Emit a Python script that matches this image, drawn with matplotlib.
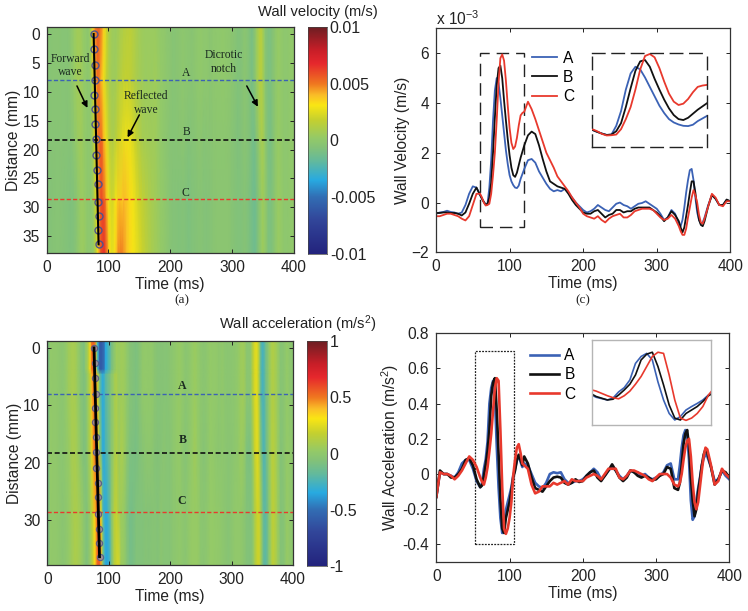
import numpy as np
import matplotlib
matplotlib.use("Agg")
import matplotlib.pyplot as plt
from matplotlib.colors import LinearSegmentedColormap, Normalize
from matplotlib.patches import Rectangle

plt.rcParams['font.family'] = ['Liberation Sans', 'DejaVu Sans']
plt.rcParams['mathtext.fontset'] = 'custom'
plt.rcParams['mathtext.rm'] = 'Liberation Sans'
plt.rcParams['mathtext.default'] = 'regular'

# ---- shared time grid (ms)
T1 = [0, 5, 10, 15, 20, 25, 30, 35, 40, 45, 50, 55]
T2 = [60, 62.5, 65, 67.5, 70, 72.5, 75, 77.5, 80, 82.5, 85, 87.5, 90, 92.5, 95, 97.5, 100, 102.5, 105, 107.5, 110, 112.5, 115, 117.5]
T3 = [120, 125, 130, 135, 140, 145, 150, 155, 160, 165, 170, 175, 180, 185, 190, 195]
T4 = [200, 205, 210, 215, 220, 225, 230, 235, 240, 245, 250, 255, 260, 265, 270, 275, 280, 285, 290, 295, 300, 305, 310, 315, 320, 325]
T5 = [330, 332.5, 335, 337.5, 340, 342.5, 345, 347.5, 350, 352.5, 355, 357.5, 360, 362.5, 365, 367.5]
T6 = [370, 375, 380, 385, 390, 395, 400]
TIME = T1 + T2 + T3 + T4 + T5 + T6

# ---- wall velocity (x 1e-3 m/s)
VA1 = [-0.45, -0.40, -0.38, -0.33, -0.38, -0.40, -0.45, -0.40, -0.10, 0.35, 0.65, 0.60]
VA2 = [0.29, 0.15, 0.03, -0.08, -0.05, 0.6, 1.7, 3.3, 4.5, 5.0, 4.8, 4.2, 3.5, 2.8, 2.1, 1.55, 1.1, 0.85, 0.7, 0.6, 0.58, 0.68, 0.95, 1.15]
VA3 = [1.35, 1.7, 1.75, 1.6, 1.25, 1.0, 0.75, 0.55, 0.45, 0.5, 0.45, 0.55, 0.4, 0.2, 0.0, -0.15]
VA4 = [-0.3, -0.4, -0.35, -0.25, -0.1, -0.2, -0.3, -0.35, -0.2, -0.05, 0.0, -0.1, -0.15, -0.25, -0.15, -0.05, -0.02, 0.05, -0.05, -0.15, -0.25, -0.45, -0.7, -0.6, -0.3, -0.45]
VA5 = [-0.85, -0.95, -0.7, -0.2, 0.4, 0.9, 1.3, 1.35, 0.9, 0.2, -0.4, -0.7, -0.85, -0.8, -0.6, -0.35]
VA6 = [-0.1, 0.3, 0.15, -0.1, -0.1, 0.1, 0.05]

VB1 = [-0.42, -0.42, -0.40, -0.40, -0.42, -0.42, -0.45, -0.52, -0.40, -0.05, 0.35, 0.60]
VB2 = [0.3, 0.15, 0.02, -0.08, -0.05, 0.2, 0.8, 2.0, 3.4, 4.7, 5.4, 5.5, 5.0, 4.1, 3.3, 2.55, 1.9, 1.4, 1.1, 1.03, 1.2, 1.5, 1.8, 2.05]
VB3 = [2.3, 2.7, 2.85, 2.75, 2.3, 1.75, 1.25, 0.85, 0.75, 0.65, 0.6, 0.55, 0.35, 0.1, -0.1, -0.25]
VB4 = [-0.4, -0.45, -0.45, -0.35, -0.3, -0.45, -0.6, -0.5, -0.45, -0.3, -0.3, -0.4, -0.35, -0.35, -0.25, -0.2, -0.2, -0.2, -0.2, -0.3, -0.4, -0.55, -0.75, -0.6, -0.35, -0.5]
VB5 = [-0.75, -1.0, -1.2, -1.0, -0.55, -0.1, 0.4, 0.85, 0.85, 0.4, -0.2, -0.7, -0.9, -0.95, -0.75, -0.45]
VB6 = [-0.15, 0.3, 0.15, -0.1, -0.1, 0.12, 0.05]

VC1 = [-0.55, -0.55, -0.50, -0.45, -0.45, -0.50, -0.55, -0.65, -0.72, -0.55, -0.10, 0.35]
VC2 = [0.35, 0.2, 0.0, -0.12, -0.1, -0.05, 0.35, 1.1, 2.0, 3.3, 4.8, 5.8, 5.95, 5.7, 4.9, 3.9, 3.0, 2.4, 2.15, 2.25, 2.6, 3.1, 3.5, 3.6]
VC3 = [3.65, 4.05, 3.75, 3.35, 2.9, 2.45, 2.0, 1.7, 1.4, 1.05, 0.85, 0.65, 0.45, 0.2, 0.0, -0.2]
VC4 = [-0.45, -0.55, -0.6, -0.65, -0.55, -0.7, -0.8, -0.65, -0.55, -0.5, -0.45, -0.6, -0.6, -0.5, -0.35, -0.3, -0.25, -0.25, -0.25, -0.3, -0.45, -0.6, -0.7, -0.65, -0.5, -0.65]
VC5 = [-0.95, -1.15, -1.3, -1.3, -1.05, -0.6, -0.2, 0.2, 0.5, 0.3, 0.0, -0.5, -0.8, -0.85, -0.65, -0.4]
VC6 = [-0.15, 0.35, 0.2, -0.1, -0.15, 0.05, 0.05]

# heat-map rows above A and below C, where they differ from the slices
VTOP2 = [0.2, 0.1, -0.05, -0.08, 0.4, 2.0, 3.6, 4.6, 5.3, 5.6, 5.6, 5.2, 4.6, 3.7, 2.8, 2.0, 1.3, 0.9, 0.7, 0.5, 0.4, 0.4, 0.5, 0.7]
VTOP3 = [0.9, 1.2, 1.4, 1.5, 1.3, 1.0, 0.7, 0.5, 0.4, 0.4, 0.4, 0.4, 0.3, 0.1, 0.0, -0.2]
VBOT2 = [0.4, 0.25, 0.05, -0.1, -0.15, -0.1, 0.1, 0.6, 1.5, 2.8, 4.2, 5.4, 6.3, 6.6, 6.4, 5.4, 4.2, 3.2, 2.7, 2.7, 3.2, 3.9, 4.6, 5.0]
VBOT3 = [5.0, 4.6, 3.9, 3.4, 3.0, 2.7, 2.3, 1.9, 1.5, 1.2, 0.9, 0.7, 0.5, 0.2, 0.0, -0.2]

# ---- wall acceleration (m/s^2)
AA1 = [-0.13, 0.01, 0.0, 0.0, -0.01, -0.02, 0.01, 0.06, 0.08, 0.08, 0.03, -0.04]
AA2 = [-0.075, -0.05, 0.03, 0.085, 0.185, 0.4, 0.49, 0.53, 0.445, 0.16, -0.075, -0.25, -0.335, -0.29, -0.205, -0.16, -0.12, -0.075, -0.01, 0.03, 0.08, 0.1, 0.07, 0.04]
AA3 = [0.06, 0.05, 0.0, -0.05, -0.07, -0.08, -0.05, 0.0, 0.01, 0.005, 0.01, -0.03, -0.05, -0.05, -0.04, -0.04]
AA4 = [-0.03, -0.01, 0.01, 0.03, 0.01, -0.03, -0.01, 0.02, 0.04, 0.02, -0.01, -0.03, -0.01, 0.02, 0.01, 0.01, -0.01, 0.0, -0.02, -0.03, -0.02, -0.01, 0.01, 0.05, 0.06, -0.03]
AA5 = [-0.03, 0.05, 0.15, 0.22, 0.25, 0.22, 0.08, -0.15, -0.26, -0.24, -0.15, -0.08, -0.02, 0.05, 0.09, 0.11]
AA6 = [0.1, 0.04, -0.04, -0.03, 0.02, -0.01, -0.03]

AB1 = [-0.13, 0.02, 0.0, 0.0, -0.02, -0.02, 0.0, 0.03, 0.08, 0.09, 0.05, -0.03]
AB2 = [-0.075, -0.065, -0.01, 0.055, 0.13, 0.25, 0.445, 0.52, 0.545, 0.36, 0.12, -0.14, -0.31, -0.335, -0.25, -0.205, -0.16, -0.095, -0.02, 0.02, 0.08, 0.11, 0.08, 0.05]
AB3 = [0.1, 0.06, -0.02, -0.08, -0.09, -0.1, -0.07, -0.04, -0.02, -0.015, -0.02, -0.05, -0.06, -0.05, -0.03, -0.045]
AB4 = [-0.04, -0.01, 0.01, 0.02, -0.02, -0.04, -0.01, 0.02, 0.055, 0.02, -0.02, -0.04, -0.02, 0.02, 0.01, -0.01, -0.02, -0.01, -0.02, -0.035, -0.03, -0.01, 0.0, 0.04, 0.03, -0.08]
AB5 = [-0.09, -0.05, 0.05, 0.17, 0.23, 0.25, 0.16, -0.02, -0.15, -0.24, -0.2, -0.1, -0.03, 0.05, 0.11, 0.14]
AB6 = [0.12, 0.04, -0.06, -0.03, 0.02, 0.01, -0.02]

AC1 = [-0.13, 0.01, 0.0, 0.0, -0.01, -0.03, -0.01, 0.02, 0.06, 0.1, 0.08, 0.04]
AC2 = [-0.02, -0.045, -0.06, -0.02, 0.04, 0.13, 0.23, 0.36, 0.49, 0.545, 0.53, 0.25, -0.075, -0.31, -0.34, -0.31, -0.25, -0.16, -0.01, 0.08, 0.15, 0.17, 0.12, 0.06]
AC3 = [0.05, 0.03, -0.06, -0.11, -0.1, -0.07, -0.07, -0.07, -0.05, -0.06, -0.05, -0.04, -0.06, -0.03, -0.04, -0.04]
AC4 = [-0.04, -0.02, -0.01, 0.0, -0.01, -0.03, 0.0, 0.03, 0.03, 0.03, -0.02, -0.03, -0.01, 0.02, 0.02, 0.01, 0.0, -0.01, -0.03, -0.04, -0.02, 0.0, 0.0, 0.0, -0.02, -0.06]
AC5 = [-0.07, -0.05, 0.0, 0.08, 0.15, 0.19, 0.2, 0.1, -0.05, -0.16, -0.2, -0.16, -0.07, 0.02, 0.1, 0.15]
AC6 = [0.14, 0.05, -0.06, -0.04, 0.03, 0.0, -0.02]

ATOP2 = [-0.08, 0.0, 0.06, 0.15, 0.35, 0.5, 0.55, 0.5, 0.1, -0.3, -0.55, -0.6, -0.55, -0.5, -0.35, -0.3, -0.25, -0.2, -0.1, -0.05, 0.0, 0.05, 0.05, 0.04]
ABOT2 = [-0.02, -0.05, -0.07, -0.03, 0.03, 0.1, 0.2, 0.33, 0.45, 0.55, 0.6, 0.45, 0.1, -0.2, -0.33, -0.36, -0.34, -0.25, -0.1, 0.05, 0.15, 0.2, 0.22, 0.22]

# ---- wave-front picks and slice positions
PICK_DIST = [0, 2.6, 5.3, 8, 10.5, 13, 15.5, 18.2, 21, 23.5, 26, 29, 31.5, 34, 36.4]
PICK_V = [76, 76.5, 78, 79, 77, 79, 79, 80, 80, 81, 83, 83, 84, 83, 84]
PICK_A = [76, 77, 77, 78.5, 77, 78, 79, 80, 80, 82, 82, 83, 84, 84, 85]
SLICE_POS = [8, 18.3, 28.6]
SLICE_NAMES = ['A', 'B', 'C']
COL_A, COL_B, COL_C = '#3b62b5', '#111111', '#e8392d'
V_TICKS = [0.01, 0.005, 0, -0.005, -0.01]
V_LABELS = ['0.01', '0.005', '0', '-0.005', '-0.01']
A_TICKS = [1, 0.5, 0, -0.5, -1]
A_LABELS = ['1', '0.5', '0', '-0.5', '-1']

W, H = 748, 611
cmap = LinearSegmentedColormap.from_list('muted_jet', [
    (0.000, '#23237d'), (0.150, '#32469a'), (0.250, '#326eb4'), (0.325, '#28aae1'),
    (0.410, '#64ba9c'), (0.470, '#84c278'), (0.510, '#94ca68'), (0.590, '#c4d030'), (0.656, '#fae614'),
    (0.700, '#fabe28'), (0.750, '#f07820'), (0.840, '#e6282d'), (0.900, '#c81e28'),
    (1.000, '#6e1e23')])

GRAY = '#222222'
FS = 11.2


def axpx(x0, y0, x1, y1):
    return fig.add_axes([x0 / W, 1 - y1 / H, (x1 - x0) / W, (y1 - y0) / H])


def style(ax, xlabel, ylabel):
    ax.tick_params(direction='in', top=True, right=True, length=3, width=0.7, labelsize=FS, pad=5, colors=GRAY)
    for s in ax.spines.values():
        s.set_linewidth(0.9)
        s.set_color('#333333')
    ax.set_xlabel(xlabel, fontsize=FS, labelpad=1.5, color=GRAY)
    ax.set_ylabel(ylabel, fontsize=FS, labelpad=1, color=GRAY)


def heat(ax, rows, dist, vmax, picks, lw):
    norm = Normalize(-vmax, vmax)
    ax.pcolormesh(TIME, dist, np.array(rows), cmap=cmap, norm=norm, shading='gouraud', rasterized=True)
    ax.set_xlim(0, 400)
    ax.set_ylim(37.9, -1.2)
    for p, c in zip(SLICE_POS, (COL_A, COL_B, COL_C)):
        ax.axhline(p, color=c, ls=(0, (3, 1.6)), lw=1.0 if c != COL_B else 1.2)
    ax.plot([picks[0], picks[-1]], [PICK_DIST[0], PICK_DIST[-1]], color='black', lw=lw, zorder=6)


fig = plt.figure(figsize=(W / 100, H / 100), dpi=100)

# ---- (a) velocity map
ax1 = axpx(46.7, 27, 293.7, 253)
ROW_TOP = VA1 + VTOP2 + VTOP3 + VA4 + VA5 + VA6
ROW_A = VA1 + VA2 + VA3 + VA4 + VA5 + VA6
ROW_B = VB1 + VB2 + VB3 + VB4 + VB5 + VB6
ROW_C = VC1 + VC2 + VC3 + VC4 + VC5 + VC6
ROW_BOT = VC1 + VBOT2 + VBOT3 + VC4 + VC5 + VC6
heat(ax1, np.array([ROW_TOP, ROW_A, ROW_B, ROW_C, ROW_BOT]) * 1e-3, [-1.2, 8, 18.3, 28.6, 37.9], 0.01, PICK_V, 1.5)
ax1.plot(PICK_V, PICK_DIST, 'o', mfc='none', mec='#4f538c', ms=5, mew=1.0, zorder=5)
ax1.set_xticks([0, 100, 200, 300, 400])
ax1.set_yticks(range(0, 40, 5))
style(ax1, 'Time (ms)', 'Distance (mm)')
serif = dict(family='Liberation Serif', fontsize=8.4, color='#1a2a20', ha='center', va='center')
ax1.text(39, 4.3, 'Forward', **serif)
ax1.text(39, 6.6, 'wave', **serif)
ax1.text(160, 10.8, 'Reflected', **serif)
ax1.text(162, 13.2, 'wave', **serif)
ax1.text(287, 3.7, 'Dicrotic', **serif)
ax1.text(287, 6, 'notch', **serif)
for n, (xp, yp) in zip(SLICE_NAMES, [(226, 6.7), (226, 17), (224, 27.5)]):
    ax1.text(xp, yp, n, **serif)
arrow = dict(arrowstyle='-|>', color='black', lw=1.1, mutation_scale=9, shrinkA=0, shrinkB=0)
ax1.annotate('', xy=(66, 12.8), xytext=(49, 9), arrowprops=arrow)
ax1.annotate('', xy=(131, 17.9), xytext=(150, 14), arrowprops=arrow)
ax1.annotate('', xy=(342, 12.6), xytext=(324, 9), arrowprops=arrow)

# ---- (b) acceleration map
ax2 = axpx(47.3, 341, 293, 565.3)
ROW_TOP2 = AA1 + ATOP2 + AA3 + AA4 + AA5 + AA6
ROW_A2 = AA1 + AA2 + AA3 + AA4 + AA5 + AA6
ROW_B2 = AB1 + AB2 + AB3 + AB4 + AB5 + AB6
ROW_C2 = AC1 + AC2 + AC3 + AC4 + AC5 + AC6
ROW_BOT2 = AC1 + ABOT2 + AC3 + AC4 + AC5 + AC6
heat(ax2, [ROW_TOP2, ROW_TOP2, ROW_A2, ROW_A2, ROW_B2, ROW_C2, ROW_BOT2], [-1.2, 3.8, 4.6, 8, 18.3, 28.6, 37.9], 1, PICK_A, 2.0)
ax2.plot(PICK_A, PICK_DIST, 'o', mfc='#9a8a9a', mec='#4f538c', ms=4.5, mew=0.8, zorder=5, alpha=0.85)
ax2.set_xticks([0, 100, 200, 300, 400])
ax2.set_yticks(range(0, 40, 10))
style(ax2, 'Time (ms)', 'Distance (mm)')
bold = dict(family='Liberation Serif', fontsize=8.6, fontweight='bold', color='#1a2a20', ha='center', va='center')
for n, (xp, yp) in zip(SLICE_NAMES, [(220, 6.6), (221, 16), (219, 26.7)]):
    ax2.text(xp, yp, n, **bold)


def cbar(x0, y0, x1, y1, vmax, ticks, labels):
    c = axpx(x0, y0, x1, y1)
    c.imshow(np.linspace(vmax, -vmax, 256)[:, None], cmap=cmap, vmin=-vmax, vmax=vmax, aspect='auto', extent=[0, 1, -vmax, vmax])
    c.set_xticks([])
    c.yaxis.tick_right()
    c.set_yticks(ticks, labels)
    c.tick_params(axis='y', length=0, pad=2, labelsize=FS + 0.3, colors=GRAY)
    for s in c.spines.values():
        s.set_linewidth(0.5)
        s.set_color('#444444')


cbar(308, 27, 327, 254, 0.01, V_TICKS, V_LABELS)
cbar(307, 341, 326.7, 566, 1, A_TICKS, A_LABELS)
fig.text(258 / W, 1 - 12 / H, 'Wall velocity (m/s)', fontsize=10.6, color=GRAY, va='center')
fig.text(219 / W, 1 - 324 / H, 'Wall acceleration (m/s$^2$)', fontsize=10.6, color=GRAY, va='center')

# ---- (c) velocity curves
V_CURVES = [(VA1 + VA2 + VA3 + VA4 + VA5 + VA6, COL_A, 'A'),
            (VB1 + VB2 + VB3 + VB4 + VB5 + VB6, COL_B, 'B'),
            (VC1 + VC2 + VC3 + VC4 + VC5 + VC6, COL_C, 'C')]
ax3 = axpx(436, 28.3, 730.3, 252.3)
for vals, c, n in V_CURVES:
    ax3.plot(TIME, vals, color=c, lw=1.3, label=n)
ax3.set_xlim(0, 400)
ax3.set_ylim(-2, 7)
ax3.set_xticks([0, 100, 200, 300, 400])
ax3.set_yticks([-2, 0, 2, 4, 6])
style(ax3, 'Time (ms)', 'Wall Velocity (m/s)')
ax3.add_patch(Rectangle((60, -1), 60, 7, fill=False, ec='#222222', lw=1.0, ls=(0, (9, 5))))
ax3.legend(loc='upper left', bbox_to_anchor=(0.325, 0.90), frameon=False, fontsize=FS,
           handlelength=1.65, labelspacing=0.27, handletextpad=0.35, borderpad=0, borderaxespad=0)
fig.text(436 / W, 1 - 18.5 / H, 'x 10$^{-3}$', fontsize=FS, color=GRAY, va='center')

in3 = axpx(592.3, 53.3, 707.3, 147.3)
in3.patch.set_alpha(0)
for vals, c, n in V_CURVES:
    in3.plot(TIME, vals, color=c, lw=1.3)
in3.set_xlim(60, 120)
in3.set_ylim(-1, 6)
in3.set_xticks([])
in3.set_yticks([])
for s in in3.spines.values():
    s.set_linestyle((0, (9, 5)))
    s.set_linewidth(1.0)
    s.set_color('#222222')

# ---- (d) acceleration curves
A_CURVES = [(AA1 + AA2 + AA3 + AA4 + AA5 + AA6, COL_A, 'A'),
            (AB1 + AB2 + AB3 + AB4 + AB5 + AB6, COL_B, 'B'),
            (AC1 + AC2 + AC3 + AC4 + AC5 + AC6, COL_C, 'C')]
ax4 = axpx(436.3, 333.3, 729.3, 562)
for vals, c, n in A_CURVES:
    ax4.plot(TIME, vals, color=c, lw=1.9, label=n)
ax4.set_xlim(0, 400)
ax4.set_ylim(-0.5, 0.8)
ax4.set_xticks([0, 100, 200, 300, 400])
ax4.set_yticks([-0.4, -0.2, 0, 0.2, 0.4, 0.6, 0.8], ['-0.4', '-0.2', '0', '0.2', '0.4', '0.6', '0.8'])
style(ax4, 'Time (ms)', 'Wall Acceleration (m/s$^2$)')
ax4.add_patch(Rectangle((53, -0.4), 53, 1.1, fill=False, ec='#222222', lw=0.9, ls=(0, (1.5, 1))))
ax4.legend(loc='upper left', bbox_to_anchor=(0.32, 0.935), frameon=False, fontsize=FS,
           handlelength=1.85, labelspacing=0.27, handletextpad=0.35, borderpad=0, borderaxespad=0)

in4 = axpx(591.7, 340.3, 710.7, 425)
for vals, c, n in A_CURVES:
    in4.plot(TIME, vals, color=c, lw=1.2)
in4.set_xlim(53, 106)
in4.set_ylim(-0.4, 0.7)
in4.set_xticks([])
in4.set_yticks([])
for s in in4.spines.values():
    s.set_linewidth(1.0)
    s.set_color('#b5b5b5')

# ---- panel captions
fig.text(182 / W, 1 - 300 / H, '(a)', family='Liberation Serif', fontsize=9.5, ha='center', va='center', color=GRAY)
fig.text(583 / W, 1 - 300 / H, '(c)', family='Liberation Serif', fontsize=9.5, ha='center', va='center', color=GRAY)

fig.savefig('out.png', dpi=100)
